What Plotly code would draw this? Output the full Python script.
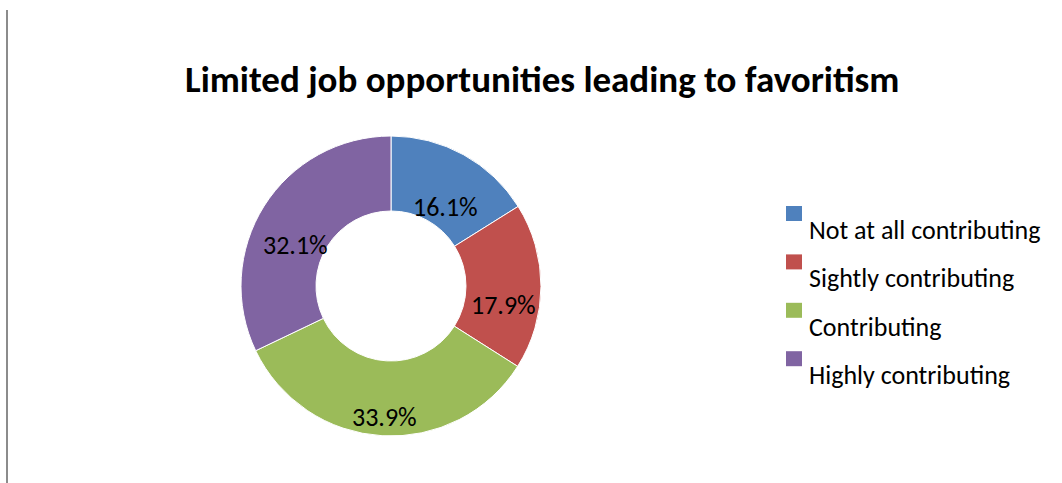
import math
import plotly.graph_objects as go

# Survey shares (%) per response category
categories = ["Not at all contributing", "Sightly contributing", "Contributing", "Highly contributing"]
shares = [16.1, 17.9, 33.9, 32.1]
colors = ["#4F81BD", "#C0504D", "#9BBB59", "#8064A2"]

title_text = "Limited job opportunities leading to favoritism"

W, H = 1062, 483
FONT = "Carlito, 'Open Sans', sans-serif"
TXT = 26

# ring geometry in pixels
CX, CY = 391, 286
R_OUT = 150
HOLE = 0.5

fig = go.Figure()
fig.add_trace(go.Pie(
    labels=categories,
    values=shares,
    hole=HOLE,
    sort=False,
    direction="clockwise",
    rotation=0,
    marker=dict(colors=colors, line=dict(color="white", width=1)),
    textinfo="none",
    hoverinfo="label+percent",
    showlegend=False,
    domain=dict(x=[(CX - R_OUT) / W, (CX + R_OUT) / W],
                y=[(H - CY - R_OUT) / H, (H - CY + R_OUT) / H]),
))

shapes = [dict(type="line", xref="paper", yref="paper",
               x0=7 / W, x1=7 / W, y0=0, y1=1 - 10 / H,
               line=dict(color="#8C8C8C", width=2))]
annotations = [dict(text="<b>" + title_text + "</b>", xref="paper", yref="paper",
                    x=541.5 / W, y=1 - 79 / H, xanchor="center", yanchor="middle",
                    showarrow=False, font=dict(family=FONT, size=37, color="black"))]

# Percentage labels at each slice's mid-angle, half-way across the ring,
# dropped slightly below that point
r_mid = R_OUT * (1 + HOLE) / 2
drop = 19
total = sum(shares)
cum = 0.0
for v in shares:
    ang = 2 * math.pi * (cum + v / 2) / total
    cum += v
    px = CX + r_mid * math.sin(ang)
    py = CY - r_mid * math.cos(ang) + drop
    annotations.append(dict(text=f"{v:.1f}%", xref="paper", yref="paper",
                            x=px / W, y=1 - py / H, xanchor="center", yanchor="middle",
                            showarrow=False, font=dict(family=FONT, size=TXT, color="black")))

# Legend drawn as coloured squares with the category names beneath them
step = 48.4
for i, (name, col) in enumerate(zip(categories, colors)):
    top = 206 + i * step
    shapes.append(dict(type="rect", xref="paper", yref="paper",
                       x0=786 / W, x1=802 / W, y0=1 - (top + 15) / H, y1=1 - top / H,
                       fillcolor=col, line=dict(width=0)))
    annotations.append(dict(text=name, xref="paper", yref="paper",
                            x=807 / W, y=1 - (top + 24) / H, xanchor="left", yanchor="middle",
                            showarrow=False, font=dict(family=FONT, size=TXT, color="black")))

fig.update_layout(
    width=W, height=H,
    margin=dict(l=0, r=0, t=0, b=0),
    paper_bgcolor="white",
    plot_bgcolor="white",
    shapes=shapes,
    annotations=annotations,
)

fig.write_html("out.html")
